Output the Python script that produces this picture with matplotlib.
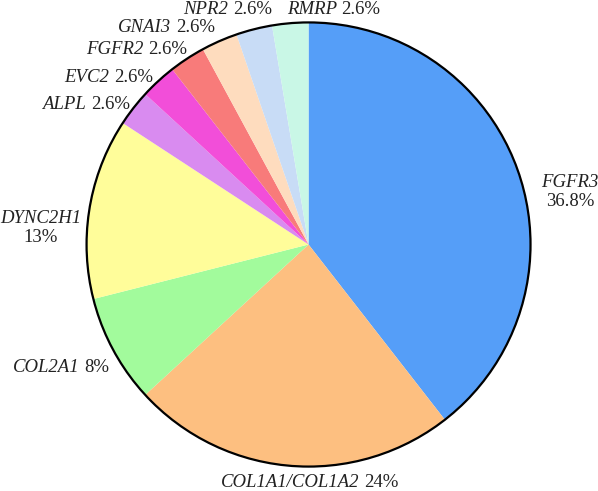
import matplotlib.pyplot as plt
from matplotlib.patches import Circle
from matplotlib.offsetbox import AnnotationBbox, HPacker, VPacker, TextArea

plt.rcParams['font.family'] = 'Liberation Serif'

# patient counts per gene (38 in total)
genes = ['FGFR3', 'COL1A1/COL1A2', 'COL2A1', 'DYNC2H1', 'ALPL',
         'EVC2', 'FGFR2', 'GNAI3', 'NPR2', 'RMRP']
counts = [15, 9, 3, 5, 1, 1, 1, 1, 1, 1]
pct_labels = ['36.8%', '24%', '8%', '13%', '2.6%',
              '2.6%', '2.6%', '2.6%', '2.6%', '2.6%']
colors = ['#559EF8', '#FDBF80', '#A2FB9C', '#FFFD9A', '#D98BF0',
          '#F24ED9', '#F87B7A', '#FEDCBE', '#C8DCF6', '#C9F7E6']

# label anchors (axis units) and layout of each label
label_pos = [(1.178, 0.236), (0.005, -1.070), (-0.899, -0.552), (-1.205, 0.074),
             (-0.804, 0.629), (-0.700, 0.750), (-0.547, 0.876), (-0.421, 0.975),
             (-0.365, 1.058), (0.113, 1.058)]
label_ha = ['center', 'center', 'right', 'center', 'right',
            'right', 'right', 'right', 'center', 'center']
two_line = [True, False, False, True, False, False, False, False, False, False]


def main():
  fig = plt.figure(figsize=(5.98, 4.91), dpi=100)
  ax = fig.add_axes([0, 0, 1, 1])

  ax.pie(counts, colors=colors, startangle=90, counterclock=False,
         wedgeprops=dict(linewidth=0))
  ax.add_patch(Circle((0, 0), 1, fill=False, edgecolor='black', linewidth=1.6))

  fs = 13.5
  tcol = '#222222'
  for gene, pct, (x, y), ha, split in zip(genes, pct_labels, label_pos, label_ha, two_line):
    g = TextArea(gene, textprops=dict(fontsize=fs, style='italic', color=tcol))
    p = TextArea(pct, textprops=dict(fontsize=fs, color=tcol))
    if split:
      box = VPacker(children=[g, p], align='center', pad=0, sep=1)
    else:
      box = HPacker(children=[g, p], align='baseline', pad=0, sep=3.5)
    align = (1.0, 0.5) if ha == 'right' else (0.5, 0.5)
    ab = AnnotationBbox(box, (x, y), xycoords='data', box_alignment=align,
                        frameon=False, pad=0)
    ax.add_artist(ab)

  ax.set_aspect('auto')
  ax.set_xlim(-1.390, 1.304)
  ax.set_ylim(-1.110, 1.101)
  ax.axis('off')

  fig.savefig('out.png', dpi=100)


if __name__ == "__main__":
  main()
